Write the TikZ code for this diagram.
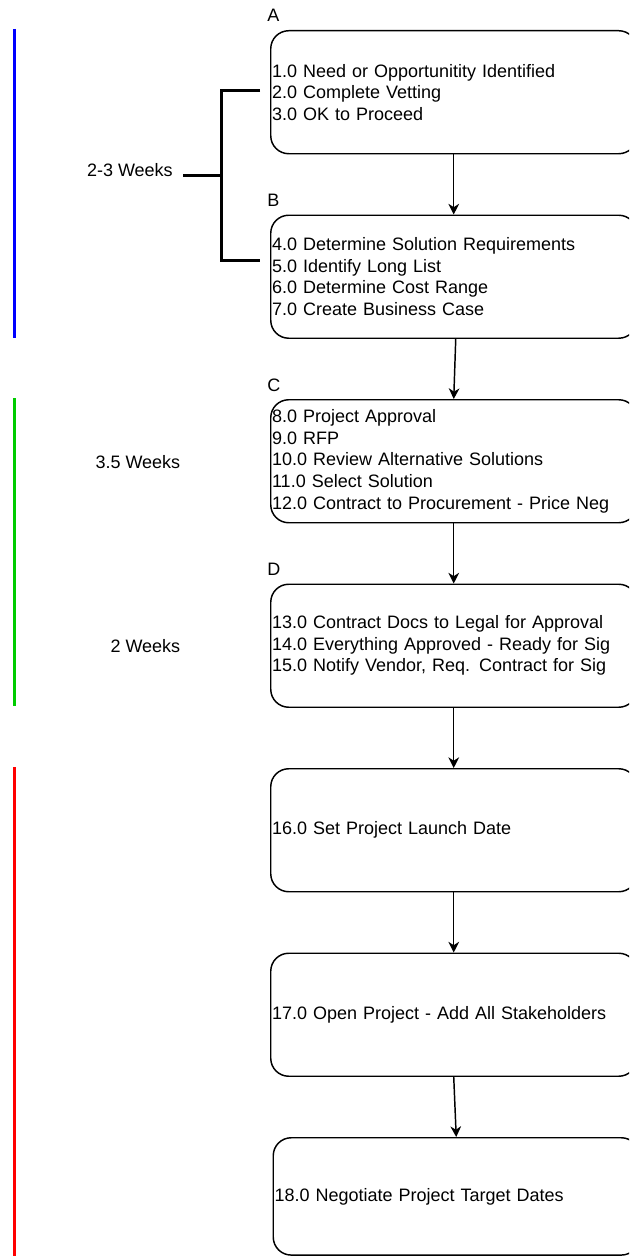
\documentclass[tikz,border=0pt]{standalone}
\usepackage{fontspec}
\setmainfont{Liberation Sans}
\usetikzlibrary{arrows.meta}
\definecolor{barblue}{HTML}{0000FF}
\definecolor{bargreen}{HTML}{00CC00}
\definecolor{barred}{HTML}{FF0000}
\begin{document}
\begin{tikzpicture}[x=0.75pt,y=-0.75pt,
  box/.style={draw=black, line width=1.1pt, rounded corners=13.5pt,
    minimum width=274.5pt, minimum height=92.25pt, text width=272.5pt,
    inner xsep=1pt, inner ysep=0pt, align=left, anchor=north west,
    font=\fontsize{13.5}{16.2}\selectfont},
  lab/.style={font=\fontsize{13.5}{16.2}\selectfont, inner sep=0pt, anchor=base west},
  dur/.style={font=\fontsize{13.5}{16.2}\selectfont, inner sep=0pt, anchor=base east},
  arr/.style={line width=1.1pt, -{Stealth[length=8pt,width=8pt,inset=2.5pt]}},
  bar/.style={line width=2.25pt},
  brk/.style={line width=2.25pt, line join=miter}
]
\clip (0,0) rectangle (629,1256);

% boxes
\node[box] (A) at (270,30) {1.0 Need or Opportunitity Identified\\2.0 Complete Vetting\\3.0 OK to Proceed};
\node[box] (B) at (270,214.5) {4.0 Determine Solution Requirements\\5.0 Identify Long List\\6.0 Determine Cost Range\\7.0 Create Business Case};
\node[box] (C) at (270,399) {8.0 Project Approval\\9.0 RFP\\10.0 Review Alternative Solutions\\11.0 Select Solution\\12.0 Contract to Procurement - Price Neg};
\node[box] (D) at (270,583.5) {13.0 Contract Docs to Legal for Approval\\14.0 Everything Approved - Ready for Sig\\15.0 Notify Vendor, Req. Contract for Sig};
\node[box] (E) at (270,768) {16.0 Set Project Launch Date};
\node[box] (F) at (270,952.5) {17.0 Open Project - Add All Stakeholders};
\node[box, minimum height=88pt] (G) at (272.5,1137) {18.0 Negotiate Project Target Dates};

% letter labels
\node[lab] (la) at ([shift={(-3,-8)}]A.north west) {A};
\node[lab] (lb) at ([shift={(-3,-8)}]B.north west) {B};
\node[lab] (lc) at ([shift={(-3,-8)}]C.north west) {C};
\node[lab] (ld) at ([shift={(-3,-8)}]D.north west) {D};

% arrows
\draw[arr] (A.south) -- (B.north);
\draw[arr] ([xshift=1.5pt]B.south) -- (C.north);
\draw[arr] (C.south) -- (D.north);
\draw[arr] (D.south) -- (E.north);
\draw[arr] (E.south) -- (F.north);
\draw[arr] (F.south) -- (G.north);

% bracket
\coordinate (bt) at (260,91);
\coordinate (bb) at (260,260);
\coordinate (bm) at (221.5,175);
\draw[brk] (bt) -- (bt -| bm) -- (bb -| bm) -- (bb);
\node[dur] (w1) at (173,176.5) {2-3 Weeks};
\draw[brk] (w1.east |- bm) ++(10,0) coordinate (tk) -- (bm);
\node[dur] (w2) at (180.5,468.5) {3.5 Weeks};
\node[dur] (w3) at (180.5,652.5) {2 Weeks};

% bars
\coordinate (b1s) at (14,29);  \coordinate (b1e) at (14,337.5);
\coordinate (b2s) at (14,398); \coordinate (b2e) at (14,705.5);
\coordinate (b3s) at (14,767); \coordinate (b3e) at (14,1260);
\draw[bar, barblue] (b1s) -- (b1e);
\draw[bar, bargreen] (b2s) -- (b2e);
\draw[bar, barred] (b3s) -- (b3e);
\end{tikzpicture}
\end{document}
